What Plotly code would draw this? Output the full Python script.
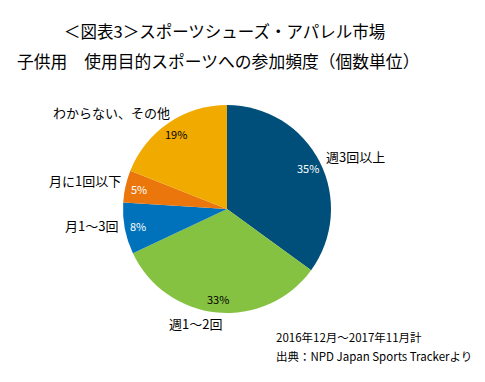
import math
import plotly.graph_objects as go

categories = ["週3回以上", "週1〜2回", "月1〜3回", "月に1回以下", "わからない、その他"]
values = [35, 33, 8, 5, 19]
colors = ["#004E7A", "#86C241", "#0072BC", "#EB770C", "#F0AA00"]
pct_colors = ["white", "black", "white", "white", "black"]
title1 = "＜図表3＞スポーツシューズ・アパレル市場"
title2 = "子供用　使用目的スポーツへの参加頻度（個数単位）"
note1 = "2016年12月～2017年11月計"
note2 = "出典：NPD Japan Sports Trackerより"

OFF = 8  # page body margin
W, H = 485 - OFF, 382 - OFF
CX, CY, R = 227 - OFF, 209 - OFF, 104
FONT = "Noto Sans CJK JP"

fig = go.Figure(go.Pie(
    labels=categories, values=values, sort=False, direction="clockwise", rotation=0,
    marker=dict(colors=colors, line=dict(width=0)),
    textinfo="none", hoverinfo="label+percent", showlegend=False,
    domain=dict(x=[(CX - R) / W, (CX + R) / W], y=[(H - CY - R) / H, (H - CY + R) / H]),
))

def px2paper(x, y):
    # x, y given in screenshot pixels
    return (x - OFF) / W, 1 - (y - OFF) / H

anns = []
total = sum(values)
cum = 0
for v, c in zip(values, pct_colors):
    mid = (cum + v / 2) / total * 2 * math.pi
    cum += v
    r = 0.87 * R
    x, y = px2paper(CX + OFF + r * math.sin(mid), CY + OFF - r * math.cos(mid))
    anns.append(dict(x=x, y=y, xref="paper", yref="paper", showarrow=False,
                     xanchor="center", yanchor="middle",
                     text=f"{round(v / total * 100)}%", font=dict(family=FONT, size=11, color=c)))

# category label positions (layout, screenshot pixels)
label_pos = [(355, 156), (195, 323), (91, 225), (85, 180), (111, 112)]
for cat, (lx, ly) in zip(categories, label_pos):
    x, y = px2paper(lx, ly)
    anns.append(dict(x=x, y=y, xref="paper", yref="paper", showarrow=False,
                     xanchor="center", yanchor="middle",
                     text=cat, font=dict(family=FONT, size=13, color="black")))

for txt, (lx, ly), size, anchor in [(title1, (224, 31), 16.5, "center"),
                                    (title2, (218, 61), 16.8, "center"),
                                    (note1, (274, 337), 11.5, "left"),
                                    (note2, (274, 356), 11.5, "left")]:
    x, y = px2paper(lx, ly)
    anns.append(dict(x=x, y=y, xref="paper", yref="paper", showarrow=False,
                     xanchor=anchor, yanchor="middle",
                     text=txt, font=dict(family=FONT, size=size, color="black")))

fig.update_layout(width=W, height=H, margin=dict(l=0, r=0, t=0, b=0),
                  paper_bgcolor="white", plot_bgcolor="white", annotations=anns)
fig.write_html("out.html")
